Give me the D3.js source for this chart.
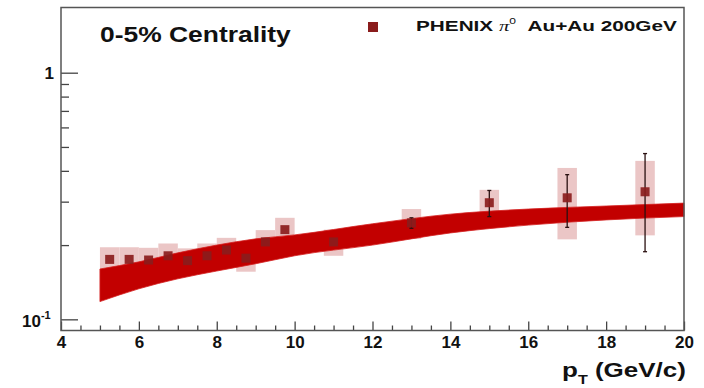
<!DOCTYPE html>
<html><head><meta charset="utf-8">
<script src="https://cdn.jsdelivr.net/npm/d3@7"></script>
<style>
html,body{margin:0;padding:0;background:#fff;}
svg{display:block;}
text{font-family:"Liberation Sans",Arial,Helvetica,sans-serif;font-weight:bold;fill:#111;}
</style></head>
<body>
<svg id="c" width="704" height="388"></svg>
<script>
// ---- data ----
const ptPoints   = [5.25, 5.75, 6.25, 6.75, 7.25, 7.75, 8.25, 8.75, 9.25, 9.75, 11, 13, 15, 17, 19];
const raaValues  = [0.175, 0.175, 0.174, 0.181, 0.173, 0.181, 0.191, 0.177, 0.206, 0.231, 0.206, 0.246, 0.297, 0.311, 0.329];
const statErr    = [0.004, 0.004, 0.004, 0.004, 0.004, 0.004, 0.005, 0.005, 0.005, 0.006, 0.008, 0.012, 0.036, 0.075, 0.141];
const sysErr     = [0.021, 0.021, 0.021, 0.022, 0.021, 0.022, 0.023, 0.021, 0.024, 0.027, 0.025, 0.034, 0.038, 0.100, 0.110];
const bandPt     = [5, 6, 7, 8, 9, 10, 12, 14, 16, 18, 20];
const bandLower  = [0.118, 0.133, 0.146, 0.157, 0.168, 0.181, 0.200, 0.224, 0.241, 0.253, 0.261];
const bandUpper  = [0.160, 0.171, 0.186, 0.200, 0.212, 0.220, 0.244, 0.267, 0.280, 0.288, 0.296];
const xMajorTicks = [4, 6, 8, 10, 12, 14, 16, 18, 20];
const xMinorTicks = d3.range(4, 20.01, 0.5).filter(v => v % 2 !== 0);
const yMajorTicks = [0.1, 1];
const yMinorTicks = [0.2, 0.3, 0.4, 0.5, 0.6, 0.7, 0.8, 0.9];
const titleText  = "0-5% Centrality";
const legendLabel = "PHENIX";

// ---- layout ----
const svg = d3.select("#c");
const L = 61, R = 684, T = 7.5, B = 330.5;
const x = d3.scaleLinear().domain([4, 20]).range([L, R]);
const y = d3.scaleLog().domain([0.0901, 1.838]).range([B, T]);

// systematic boxes
svg.append("g").selectAll("rect").data(ptPoints).join("rect")
  .attr("x", d => x(d - 0.25))
  .attr("width", d => x(d + 0.25) - x(d - 0.25))
  .attr("y", (d, i) => y(raaValues[i] + sysErr[i]))
  .attr("height", (d, i) => y(raaValues[i] - sysErr[i]) - y(raaValues[i] + sysErr[i]))
  .attr("fill", "#ebc6c6");

// theory band
const bandData = bandPt.map((p, i) => ({p, lo: bandLower[i], hi: bandUpper[i]}));
svg.append("path").datum(bandData)
  .attr("d", d3.area().x(d => x(d.p)).y0(d => y(d.lo)).y1(d => y(d.hi)).curve(d3.curveMonotoneX))
  .attr("fill", "#c20000").attr("stroke", "#d42020").attr("stroke-width", 0.8);

// stat error bars
const eb = svg.append("g").attr("stroke", "#2a1010").attr("stroke-width", 1.3);
ptPoints.forEach((p, i) => {
  const y1 = y(raaValues[i] + statErr[i]), y2 = y(raaValues[i] - statErr[i]);
  if (y2 - y1 > 9) {
    eb.append("line").attr("x1", x(p)).attr("x2", x(p)).attr("y1", y1).attr("y2", y2);
    eb.append("line").attr("x1", x(p) - 2).attr("x2", x(p) + 2).attr("y1", y1).attr("y2", y1);
    eb.append("line").attr("x1", x(p) - 2).attr("x2", x(p) + 2).attr("y1", y2).attr("y2", y2);
  }
});

// markers
const ms = 9;
svg.append("g").selectAll("rect").data(ptPoints).join("rect")
  .attr("x", d => x(d) - ms / 2)
  .attr("y", (d, i) => y(raaValues[i]) - ms / 2)
  .attr("width", ms).attr("height", ms)
  .attr("fill", "#8a1c1c").attr("fill-opacity", 0.92);

// axes ticks
const gx = svg.append("g").attr("transform", `translate(0,${B})`);
gx.call(d3.axisBottom(x).tickValues(xMajorTicks).tickSize(-9).tickPadding(14).tickFormat(d3.format("d")));
const gxm = svg.append("g").attr("transform", `translate(0,${B})`);
gxm.call(d3.axisBottom(x).tickValues(xMinorTicks).tickSize(-5).tickFormat(""));
const gy = svg.append("g").attr("transform", `translate(${L},0)`);
gy.call(d3.axisLeft(y).tickValues(yMajorTicks).tickSize(-17).tickFormat(""));
const gym = svg.append("g").attr("transform", `translate(${L},0)`);
gym.call(d3.axisLeft(y).tickValues(yMinorTicks).tickSize(-8).tickFormat(""));
[gx, gxm, gy, gym].forEach(g => {
  g.select(".domain").remove();
  g.selectAll(".tick line").attr("stroke", "#444").attr("stroke-width", 1.3);
});
gx.selectAll(".tick text").attr("font-size", 17).attr("font-family", "Liberation Sans, Arial, sans-serif")
  .attr("font-weight", "bold").attr("fill", "#111").attr("dy", "0.2em")
  .attr("transform", function() { return ""; });

// frame
svg.append("rect").attr("x", L).attr("y", T).attr("width", R - L).attr("height", B - T)
  .attr("fill", "none").attr("stroke", "#555").attr("stroke-width", 1.5);

// y labels
svg.append("text").attr("x", 54).attr("y", y(1) + 6).attr("text-anchor", "end").attr("font-size", 17).text("1");
const t10 = svg.append("text").attr("x", 22).attr("y", y(0.1) + 8).attr("font-size", 17);
t10.append("tspan").text("10");
t10.append("tspan").attr("font-size", 11).attr("dy", -8).text("-1");

// helper to stretch text to a width
function fit(sel, w) {
  const node = sel.node();
  const cw = node.getComputedTextLength ? node.getComputedTextLength() : node.getBBox().width;
  const bx = +sel.attr("x"), by = +sel.attr("y");
  sel.attr("x", 0).attr("y", 0).attr("transform", `translate(${bx},${by}) scale(${w / cw},1)`);
}

// title
const tt = svg.append("text").attr("x", 100).attr("y", 41.5).attr("font-size", 22).text(titleText);
fit(tt, 191);

// legend
svg.append("rect").attr("x", 368).attr("y", 22).attr("width", 10).attr("height", 10).attr("fill", "#8a1c1c");
const lg = svg.append("text").attr("x", 416).attr("y", 30.5).attr("font-size", 15.5);
lg.append("tspan").text(legendLabel + " ");
lg.append("tspan").attr("font-family", "Liberation Serif, Times New Roman, serif").attr("font-style", "italic").attr("font-weight", "normal").text("\u03c0");
lg.append("tspan").attr("font-size", 9).attr("font-weight", "normal").attr("dy", -7).text("0");
lg.append("tspan").attr("dy", 7).attr("xml:space", "preserve").text("\u00a0\u00a0Au+Au 200GeV");
const lgW = lg.node().getBBox().width;
lg.attr("x", 0).attr("y", 0).attr("transform", `translate(416,30.5) scale(${262 / lgW},1)`);

// x label
const xl = svg.append("text").attr("x", 562).attr("y", 377).attr("font-size", 21);
xl.append("tspan").text("p");
xl.append("tspan").attr("font-size", 13).attr("dy", 7).text("T");
xl.append("tspan").attr("dy", -7).text("\u00a0(GeV/c)");
const xlW = xl.node().getBBox().width;
xl.attr("x", 0).attr("y", 0).attr("transform", `translate(562,377) scale(${124 / xlW},1)`);
</script>
</body></html>
